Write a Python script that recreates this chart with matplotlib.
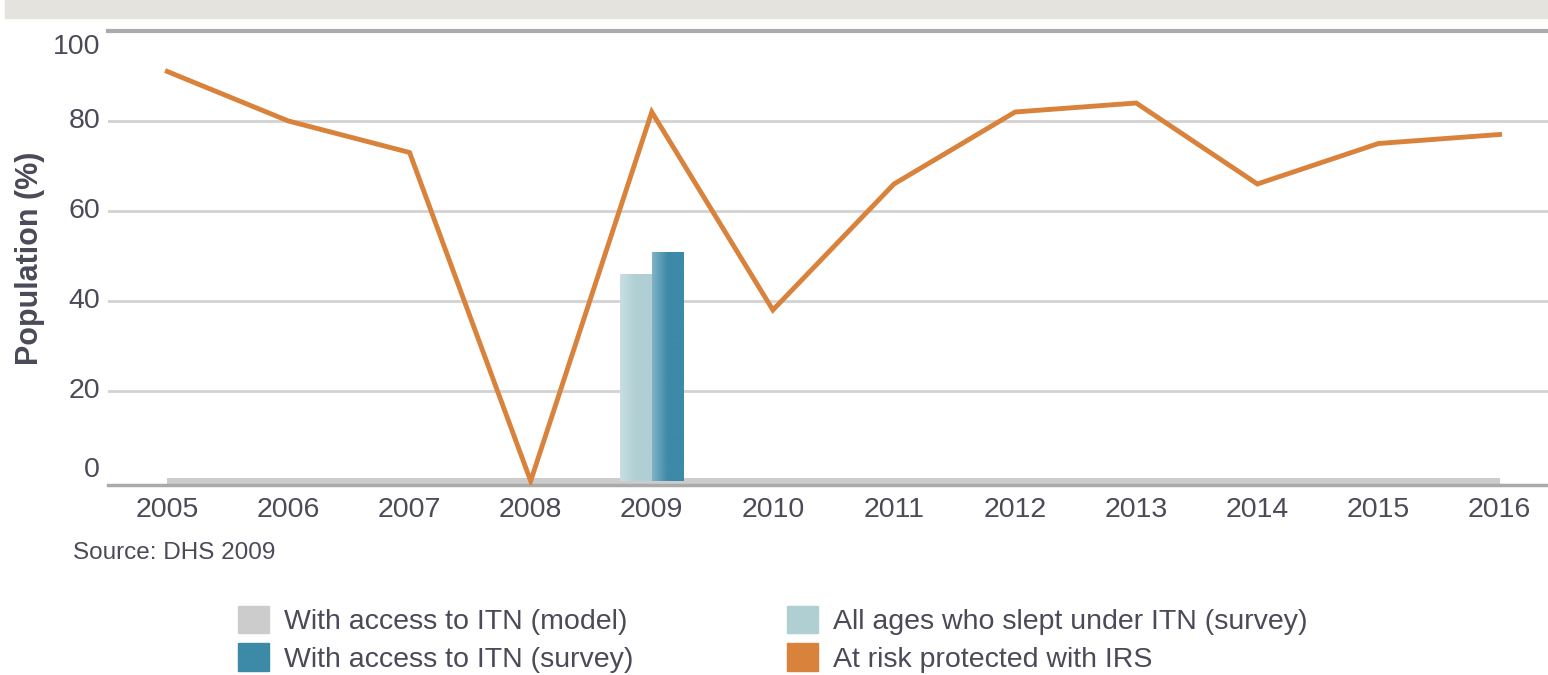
import matplotlib
matplotlib.use("Agg")
import matplotlib.pyplot as plt
from matplotlib.patches import Patch, Rectangle
from matplotlib.colors import LinearSegmentedColormap
import matplotlib.transforms as mtransforms
import numpy as np

plt.rcParams['font.family'] = ['Liberation Sans', 'DejaVu Sans']

years = [2005, 2006, 2007, 2008, 2009, 2010, 2011, 2012, 2013, 2014, 2015, 2016]
itn_model = [0.7, 0.7, 0.7, 0.7, 0.7, 0.7, 0.7, 0.7, 0.7, 0.7, 0.7, 0.7]
irs_protected = [91, 80, 73, 0, 82, 38, 66, 82, 84, 66, 75, 77]
survey_year = [2009]
slept_under_itn = [46]
access_itn_survey = [51]
yticks = [0, 20, 40, 60, 80, 100]

labels = ["With access to ITN (model)", "With access to ITN (survey)",
          "All ages who slept under ITN (survey)", "At risk protected with IRS"]
c_model = "#cccccc"
c_access = "#3c89a8"
c_slept = "#b0cfd3"
c_irs = "#d9823b"
txt = "#4a4a58"

W, H = 1548, 675
fig = plt.figure(figsize=(W / 100, H / 100), dpi=100)

# top banner
fig.patches.append(Rectangle((5 / W, 1 - 18 / H), 1, 18 / H, transform=fig.transFigure,
                             color="#e5e3de", zorder=0))

ax = fig.add_axes([108 / W, 1 - 484.6 / H, 1 - 108 / W, (484.6 - 31) / H])
ax.set_xlim(2004.51, 2016.4)
ax.set_ylim(-0.8, 100)

for v in yticks:
    if v == 100:
        ax.axhline(v, color="#aaaaaa", lw=3, zorder=1, clip_on=False)
    elif v > 0:
        ax.axhline(v, color="#d3d3d3", lw=2, zorder=1)

ax.fill_between(years, ax.get_ylim()[0], itn_model, color=c_model, lw=0, zorder=2)

bw = 0.26
grad = np.linspace(0, 1, 64).reshape(1, -1)


def gradient_bars(xs, vals, c_light, c_dark):
    bars = ax.bar(xs, vals, width=bw, color=c_dark, zorder=3, bottom=0)
    cmap = LinearSegmentedColormap.from_list("g", [c_light, c_dark, c_dark])
    for b in bars:
        x0, y0 = b.get_x(), b.get_y()
        im = ax.imshow(grad, cmap=cmap, aspect="auto", zorder=3.5,
                       extent=[x0, x0 + b.get_width(), y0, y0 + b.get_height()])
        im.set_clip_path(b)
    return bars


gradient_bars([y - bw / 2 for y in survey_year], slept_under_itn, "#c8dfe2", c_slept)
gradient_bars([y + bw / 2 for y in survey_year], access_itn_survey, "#7fb2c6", c_access)
ax.set_xlim(2004.51, 2016.4)
ax.set_ylim(-0.8, 100)

ax.plot(years, irs_protected, color=c_irs, lw=3.5, zorder=4, solid_joinstyle='miter')

for s in ["top", "right", "left"]:
    ax.spines[s].set_visible(False)
ax.spines["bottom"].set_color("#aaaaaa")
ax.spines["bottom"].set_linewidth(2.5)

ax.set_xticks(years)
ax.set_xticklabels([str(y) for y in years], fontsize=20.5, color=txt)
ax.set_yticks([])
ax.tick_params(axis="both", length=0)
ax.tick_params(axis="x", pad=9)

for v in yticks:
    dy = -16 if v == 100 else (11 if v == 0 else 0)
    tr = mtransforms.offset_copy(ax.get_yaxis_transform(), fig=fig, x=-8, y=dy, units="dots")
    ax.text(0, v, str(v), transform=tr, ha="right", va="center", fontsize=20.5, color=txt)

fig.text(30 / W, 1 - 258 / H, "Population (%)", rotation=90, fontsize=22,
         fontweight="bold", color=txt, ha="center", va="center")
fig.text(73 / W, 1 - 553 / H, "Source: DHS 2009", fontsize=17.5, color=txt,
         ha="left", va="center")

handles = [Patch(color=c_model), Patch(color=c_access), Patch(color=c_slept), Patch(color=c_irs)]
kw = dict(loc="upper left", frameon=False, fontsize=20.5, labelcolor=txt, borderpad=0,
          borderaxespad=0, handlelength=1.1, handleheight=1.1, handletextpad=0.5,
          labelspacing=0.28)
fig.legend(handles[:2], labels[:2], bbox_to_anchor=(238 / W, 1 - 606 / H), **kw)
fig.legend(handles[2:], labels[2:], bbox_to_anchor=(787 / W, 1 - 606 / H), **kw)

fig.savefig("out.png", dpi=100)
